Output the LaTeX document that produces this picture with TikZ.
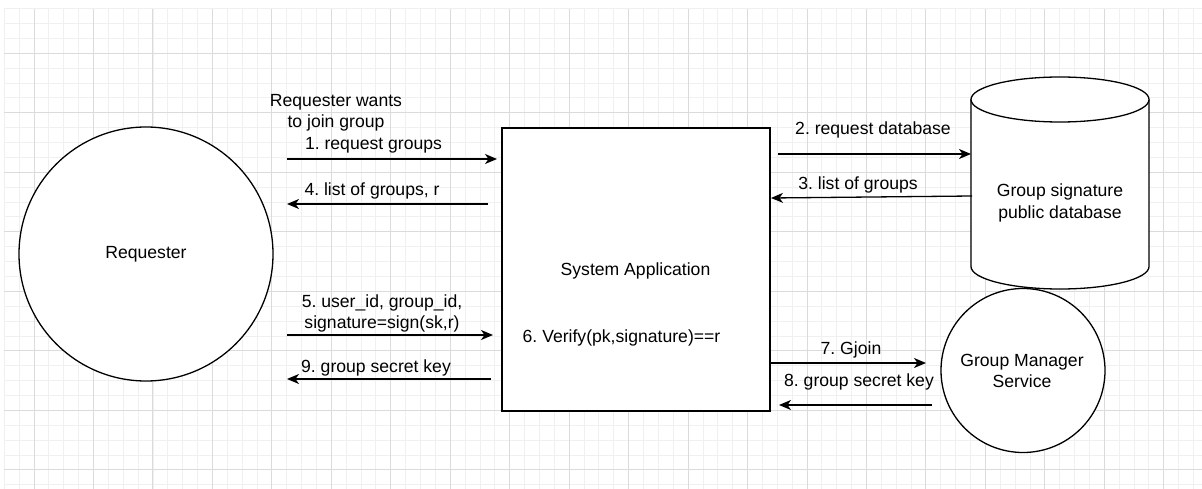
\documentclass[tikz,border=0pt]{standalone}
\usepackage{fontspec}
\setmainfont{Liberation Sans}
\usetikzlibrary{arrows.meta}

\newcommand{\lblfont}{\fontsize{17.6}{21.5}\selectfont\frenchspacing}

\tikzset{
  minorgrid/.style={draw=black!6, line width=0.9pt},
  majorgrid/.style={draw=black!14, line width=0.9pt},
  outline/.style={draw=black, line width=1.3pt, fill=white},
  flow/.style={line width=1.3pt, -{Stealth[length=12pt,width=10pt,inset=3.5pt]}},
  txt/.style={font=\lblfont, inner sep=0pt, align=center},
  lbl/.style={txt, text height=12.6pt, text depth=3.7pt},
}

\begin{document}
\begin{tikzpicture}[x=1pt, y=-1pt]
  % canvas
  \useasboundingbox (0,0) rectangle (1202,489);
  \fill[white] (0,0) rectangle (1202,489);

  % background grid: fine lines every 14.87, heavier every fourth one
  \foreach \i in {0,...,80} {
    \draw[minorgrid] ({4.3+14.865*\i},8.7) -- ({4.3+14.865*\i},489);
  }
  \foreach \j in {0,...,32} {
    \draw[minorgrid] (4.3,{8.7+14.875*\j}) -- (1202,{8.7+14.875*\j});
  }
  \foreach \i in {0,...,19} {
    \draw[majorgrid] ({34+59.46*\i},8.7) -- ({34+59.46*\i},489);
  }
  \foreach \j in {0,...,7} {
    \draw[majorgrid] (4.3,{53.3+59.5*\j}) -- (1202,{53.3+59.5*\j});
  }

  % participants
  \node[outline, circle, minimum size=254pt, inner sep=0pt, font=\lblfont] (req) at (146,254) {Requester};
  \node[outline, rectangle, minimum width=268pt, minimum height=283pt, inner sep=0pt] (sys) at (636,269.5) {};
  \node[lbl] (systxt) at (635.5,271) {System Application};
  \node[lbl] (verify) at (621.5,338) {6. Verify(pk,signature)==r};

  % public database cylinder
  \draw[outline] (971,99.5) -- (971,266.5)
    arc[start angle=180, end angle=360, x radius=89pt, y radius=22.5pt]
    -- (1149,99.5);
  \draw[outline] (1060,99.5) ellipse [x radius=89pt, y radius=22.5pt];
  \node[txt] (db) at (1060,203) {Group signature\\public database};

  \node[outline, circle, minimum size=164pt, inner sep=0pt] (gm) at (1023,370.5) {};
  \node[txt] (gmtxt) at (1022,371) {Group Manager\\Service};

  % note above the first request
  \node[txt] (note) at (336,113) {Requester wants\\to join group};

  % connector end points
  \coordinate (a1s) at (287,159);  \coordinate (a1e) at (497,159);
  \coordinate (a4s) at (488,204);  \coordinate (a4e) at (287,204);
  \coordinate (a5s) at (287,335);  \coordinate (a5e) at (493,335);
  \coordinate (a9s) at (491,379);  \coordinate (a9e) at (287,379);
  \coordinate (a2s) at (778,154);  \coordinate (a2e) at (971,154);
  \coordinate (a3s) at (972,196);  \coordinate (a3e) at (771,198);
  \coordinate (a7s) at (771,363);  \coordinate (a7e) at (926,363);
  \coordinate (a8s) at (932,405);  \coordinate (a8e) at (779,405);

  % messages
  \draw[flow] (a1s) -- (a1e);
  \draw[flow] (a4s) -- (a4e);
  \draw[flow] (a5s) -- (a5e);
  \draw[flow] (a9s) -- (a9e);
  \draw[flow] (a2s) -- (a2e);
  \draw[flow] (a3s) -- (a3e);
  \draw[flow] (a7s) -- (a7e);
  \draw[flow] (a8s) -- (a8e);

  % message labels
  \node[lbl] (m1) at (373.5,145) {1. request groups};
  \node[lbl] (m4) at (372,191) {4. list of groups, r};
  \node[txt] (m5) at (382,313.5) {5. user\_id, group\_id,\\signature=sign(sk,r)};
  \node[lbl] (m9) at (376,368) {9. group secret key};
  \node[lbl] (m2) at (873,130) {2. request database};
  \node[lbl] (m3) at (858,185) {3. list of groups};
  \node[lbl] (m7) at (851,350) {7. Gjoin};
  \node[lbl] (m8) at (859,382) {8. group secret key};
\end{tikzpicture}
\end{document}
